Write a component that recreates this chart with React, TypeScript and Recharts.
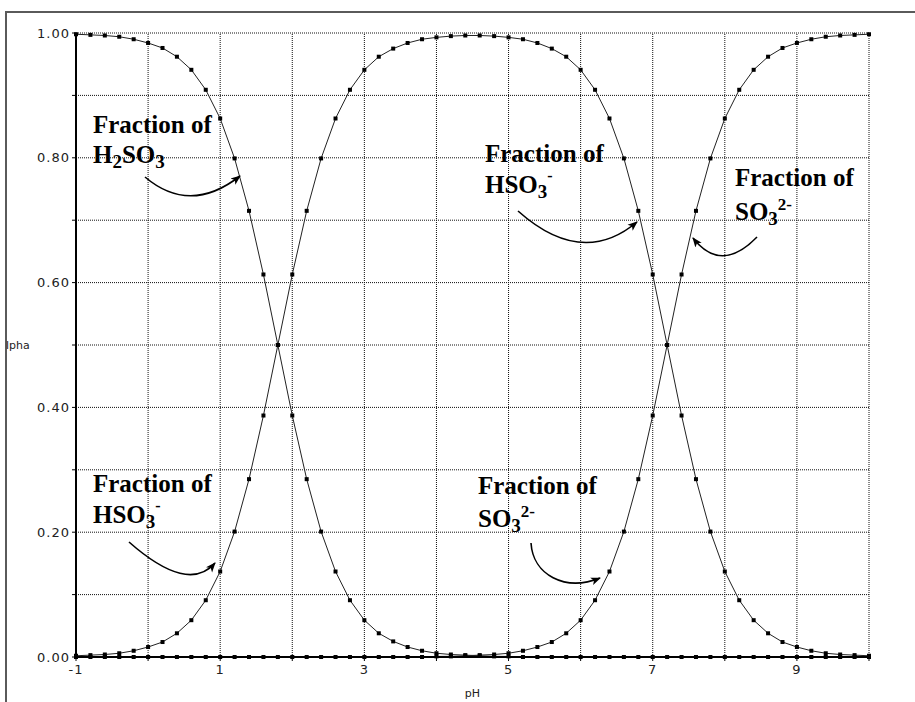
import React from "react";
import { LineChart, Line, XAxis, YAxis, ReferenceLine } from "recharts";

// pH steps of 0.2 from -1 to 10
const phValues = [
  -1.0, -0.8, -0.6, -0.4, -0.2, 0.0, 0.2, 0.4, 0.6, 0.8,
  1.0, 1.2, 1.4, 1.6, 1.8, 2.0, 2.2, 2.4, 2.6, 2.8,
  3.0, 3.2, 3.4, 3.6, 3.8, 4.0, 4.2, 4.4, 4.6, 4.8,
  5.0, 5.2, 5.4, 5.6, 5.8, 6.0, 6.2, 6.4, 6.6, 6.8,
  7.0, 7.2, 7.4, 7.6, 7.8, 8.0, 8.2, 8.4, 8.6, 8.8,
  9.0, 9.2, 9.4, 9.6, 9.8, 10.0,
];

const fracH2SO3 = [
  0.998, 0.997, 0.996, 0.994, 0.99, 0.984, 0.976, 0.962, 0.941, 0.909,
  0.863, 0.799, 0.715, 0.613, 0.5, 0.387, 0.285, 0.201, 0.137, 0.091,
  0.059, 0.038, 0.025, 0.016, 0.01, 0.006, 0.004, 0.003, 0.002, 0.001,
  0.001, 0, 0, 0, 0, 0, 0, 0, 0, 0,
  0, 0, 0, 0, 0, 0, 0, 0, 0, 0,
  0, 0, 0, 0, 0, 0,
];

const fracHSO3 = [
  0.002, 0.003, 0.004, 0.006, 0.01, 0.016, 0.024, 0.038, 0.059, 0.091,
  0.137, 0.201, 0.285, 0.387, 0.5, 0.613, 0.715, 0.799, 0.863, 0.909,
  0.941, 0.962, 0.975, 0.984, 0.99, 0.993, 0.995, 0.996, 0.996, 0.995,
  0.993, 0.99, 0.984, 0.975, 0.962, 0.941, 0.909, 0.863, 0.799, 0.715,
  0.613, 0.5, 0.387, 0.285, 0.201, 0.137, 0.091, 0.059, 0.038, 0.024,
  0.016, 0.01, 0.006, 0.004, 0.003, 0.002,
];

const fracSO3 = [
  0, 0, 0, 0, 0, 0, 0, 0, 0, 0,
  0, 0, 0, 0, 0, 0, 0, 0, 0, 0,
  0, 0, 0, 0, 0, 0.001, 0.001, 0.002, 0.003, 0.004,
  0.006, 0.01, 0.016, 0.024, 0.038, 0.059, 0.091, 0.137, 0.201, 0.285,
  0.387, 0.5, 0.613, 0.715, 0.799, 0.863, 0.909, 0.941, 0.962, 0.976,
  0.984, 0.99, 0.994, 0.996, 0.997, 0.998,
];

const xGrid = [-1, 0, 1, 2, 3, 4, 5, 6, 7, 8, 9, 10];
const xLabels = [-1, 1, 3, 5, 7, 9];
const yGrid = [0, 0.1, 0.2, 0.3, 0.4, 0.5, 0.6, 0.7, 0.8, 0.9, 1.0];
const yLabels = [0, 0.2, 0.4, 0.6, 0.8, 1.0];

const rows = phValues.map((ph, i) => ({
  ph,
  h2so3: fracH2SO3[i],
  hso3: fracHSO3[i],
  so3: fracSO3[i],
}));

const W = 915;
const H = 702;

const sans = "'DejaVu Sans', sans-serif";
const serif = "'Liberation Serif', 'Times New Roman', serif";

const SquareDot = (props: any) => {
  const { cx, cy, key } = props;
  if (cx == null || cy == null) return <g key={key} />;
  return <rect key={key} x={cx - 2} y={cy - 2} width={4} height={4} fill="#000" />;
};

// only draw text for labelled ticks; tick marks come from tickLine
const XTick = (props: any) => {
  const { x, y, payload } = props;
  if (!xLabels.includes(payload.value)) return <g />;
  return (
    <text x={x} y={y} dy="0.71em" textAnchor="middle" fontFamily={sans} fontSize={13} letterSpacing={1} fill="#222">
      {String(payload.value)}
    </text>
  );
};

const YTick = (props: any) => {
  const { x, y, payload } = props;
  if (!yLabels.some((l) => Math.abs(l - payload.value) < 1e-6)) return <g />;
  return (
    <text x={x} y={y} dy="0.355em" textAnchor="end" fontFamily={sans} fontSize={13} letterSpacing={1} fill="#222">
      {Number(payload.value).toFixed(2)}
    </text>
  );
};

function Note({ x, y1, y2, children }: { x: number; y1: number; y2: number; children: React.ReactNode }) {
  return (
    <g fontFamily={serif} fontWeight="bold" fontSize={25} fill="#000">
      <text x={x} y={y1}>Fraction of</text>
      <text x={x} y={y2}>{children}</text>
    </g>
  );
}

export default function App() {
  return (
    <div style={{ position: "absolute", left: 0, top: 0, width: W, height: H, background: "#fff", overflow: "hidden" }}>
      <div
        style={{
          position: "absolute",
          left: 5,
          top: 11,
          width: W,
          height: H,
          borderTop: "2px solid #5a5a5a",
          borderLeft: "2px solid #5a5a5a",
        }}
      />
      <div style={{ position: "absolute", left: 0, top: 0 }}>
        <LineChart width={W} height={H} data={rows} margin={{ top: 33, right: 46, left: 0, bottom: 0 }}>
          {xGrid.map((v) => (
            <ReferenceLine key={"x" + v} x={v} stroke="#111" strokeDasharray="1 1" />
          ))}
          {yGrid.map((v) => (
            <ReferenceLine key={"y" + v} y={v} stroke="#111" strokeDasharray="1 1" />
          ))}
          <XAxis
            dataKey="ph"
            type="number"
            domain={[-1, 10]}
            ticks={xGrid}
            interval={0}
            height={45}
            tickSize={4}
            tickMargin={4}
            tick={XTick}
            axisLine={{ stroke: "#000", strokeWidth: 2 }}
            tickLine={{ stroke: "#000" }}
            label={{
              value: "pH",
              position: "insideBottom",
              offset: 5,
              style: { fontFamily: sans, fontSize: 11, fill: "#222" },
            }}
          />
          <YAxis
            type="number"
            domain={[0, 1]}
            ticks={yGrid}
            interval={0}
            width={76}
            tickSize={4}
            tickMargin={2}
            tick={YTick}
            axisLine={{ stroke: "#000", strokeWidth: 2 }}
            tickLine={{ stroke: "#000" }}
            label={{
              value: "lpha",
              position: "insideLeft",
              offset: 6,
              style: { fontFamily: sans, fontSize: 11, fill: "#222" },
            }}
          />
          <Line dataKey="h2so3" type="linear" stroke="#222" strokeWidth={1} dot={SquareDot} activeDot={false} isAnimationActive={false} />
          <Line dataKey="hso3" type="linear" stroke="#222" strokeWidth={1} dot={SquareDot} activeDot={false} isAnimationActive={false} />
          <Line dataKey="so3" type="linear" stroke="#222" strokeWidth={1} dot={SquareDot} activeDot={false} isAnimationActive={false} />
        </LineChart>
      </div>
      <svg width={W} height={H} style={{ position: "absolute", left: 0, top: 0, pointerEvents: "none" }}>
        <defs>
          <marker id="ah" viewBox="0 0 10 10" refX="9" refY="5" markerWidth="10" markerHeight="10" markerUnits="userSpaceOnUse" orient="auto">
            <path d="M0,1 L10,5 L0,9 L2.5,5 Z" fill="#000" />
          </marker>
        </defs>
        <g fill="none" stroke="#000" strokeWidth={1.6} markerEnd="url(#ah)">
          <path d="M145,177 Q190,215 240,176" />
          <path d="M518,211 Q582,268 637,222" />
          <path d="M757,237 Q721,274 693,238" />
          <path d="M129,542 Q188,594 215,563" />
          <path d="M531,543 C533,575 565,592 600,578" />
        </g>
        <Note x={93} y1={133} y2={163}>
          <tspan>H</tspan>
          <tspan fontSize={19} dy={5}>2</tspan>
          <tspan dy={-5}>SO</tspan>
          <tspan fontSize={19} dy={5}>3</tspan>
        </Note>
        <Note x={485} y1={162} y2={193}>
          <tspan>HSO</tspan>
          <tspan fontSize={19} dy={5}>3</tspan>
          <tspan fontSize={16} dy={-17}>-</tspan>
        </Note>
        <Note x={735} y1={186} y2={220}>
          <tspan>SO</tspan>
          <tspan fontSize={19} dy={5}>3</tspan>
          <tspan fontSize={17} dy={-15}>2-</tspan>
        </Note>
        <Note x={93} y1={492} y2={523}>
          <tspan>HSO</tspan>
          <tspan fontSize={19} dy={5}>3</tspan>
          <tspan fontSize={16} dy={-17}>-</tspan>
        </Note>
        <Note x={478} y1={494} y2={527}>
          <tspan>SO</tspan>
          <tspan fontSize={19} dy={5}>3</tspan>
          <tspan fontSize={17} dy={-15}>2-</tspan>
        </Note>
      </svg>
    </div>
  );
}
